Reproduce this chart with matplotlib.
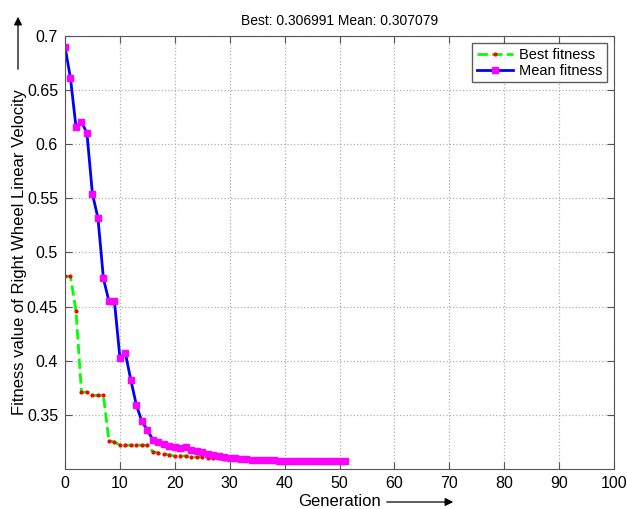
import numpy as np
import matplotlib.pyplot as plt
from matplotlib.patches import FancyArrowPatch

plt.rcParams['font.family'] = ['Liberation Sans', 'DejaVu Sans']

generation = list(range(52))
best_fitness = [0.478, 0.478, 0.446, 0.371, 0.371, 0.368, 0.368, 0.368, 0.326, 0.325,
                0.322, 0.322, 0.322, 0.322, 0.322, 0.322, 0.316, 0.315, 0.314, 0.313,
                0.312, 0.312, 0.312, 0.311, 0.311, 0.311, 0.310, 0.310, 0.310, 0.309,
                0.309, 0.309, 0.308, 0.308, 0.308, 0.308, 0.3078, 0.3077, 0.3076, 0.3075,
                0.3074, 0.3073, 0.3072, 0.3072, 0.3071, 0.3071, 0.3070, 0.3070, 0.3070, 0.3070,
                0.30699, 0.306991]
mean_fitness = [0.690, 0.661, 0.616, 0.621, 0.610, 0.554, 0.532, 0.476, 0.455, 0.455,
                0.403, 0.407, 0.382, 0.359, 0.344, 0.336, 0.327, 0.325, 0.323, 0.321,
                0.320, 0.319, 0.320, 0.318, 0.317, 0.316, 0.314, 0.313, 0.312, 0.311,
                0.310, 0.3097, 0.3093, 0.309, 0.3087, 0.3085, 0.3083, 0.3081, 0.3080, 0.3078,
                0.3077, 0.3076, 0.3075, 0.3074, 0.3073, 0.3073, 0.3072, 0.3072, 0.3071, 0.3071,
                0.3071, 0.307079]
x_ticks = list(range(0, 101, 10))
y_ticks = [0.35, 0.4, 0.45, 0.5, 0.55, 0.6, 0.65, 0.7]

W, H = 627, 509
fig = plt.figure(figsize=(W / 100, H / 100), dpi=100)
ax = fig.add_axes([65 / W, 1 - 469 / H, 549 / W, 433 / H])

ax.plot(generation, best_fitness, color='#00ff00', ls='--', lw=2,
        marker='o', ms=2, mfc='red', mec='red', label='Best fitness')
ax.plot(generation, mean_fitness, color='blue', lw=2,
        marker='s', ms=4, mfc='magenta', mec='magenta', label='Mean fitness')

ax.set_xlim(0, 100)
ax.set_ylim(0.3, 0.7)
ax.set_xticks(x_ticks)
ax.set_yticks(y_ticks)
ax.set_yticklabels([('%g' % v) for v in y_ticks])
ax.tick_params(direction='in', top=True, right=True, labelsize=11.5, length=5,
               color='#555555', pad=5)
ax.grid(True, ls=':', color='#b0b0b0', lw=0.9)
for s in ax.spines.values():
    s.set_color('#555555')

ax.set_title('Best: 0.306991 Mean: 0.307079', fontsize=10, pad=8)
ax.set_xlabel('Generation', fontsize=12, labelpad=2)
ax.set_ylabel('Fitness value of Right Wheel Linear Velocity', fontsize=12, labelpad=-0.5)

leg = ax.legend(loc='upper right', fontsize=10.5, fancybox=False, edgecolor='#333333',
                borderpad=0.3, handlelength=2.5, handletextpad=0.4, labelspacing=0.15,
                borderaxespad=0.5)
leg.get_frame().set_linewidth(1)

# arrows next to the axis labels
fig.patches.append(FancyArrowPatch(
    (18 / W, 1 - 72 / H), (18 / W, 1 - 14 / H), transform=fig.transFigure,
    arrowstyle='-|>', mutation_scale=12, color='black', lw=0.9))
fig.patches.append(FancyArrowPatch(
    (384 / W, 1 - 502 / H), (456 / W, 1 - 502 / H), transform=fig.transFigure,
    arrowstyle='-|>', mutation_scale=12, color='black', lw=0.9))

fig.savefig('out.png', dpi=100)
